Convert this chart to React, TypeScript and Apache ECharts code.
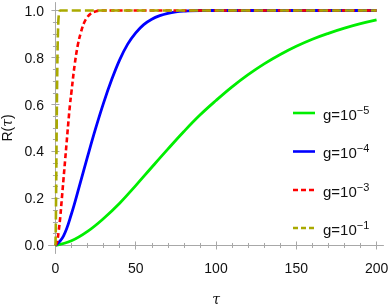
import React, { useEffect, useRef } from "react";
import * as echarts from "echarts";

const X_MAJOR = [0, 50, 100, 150, 200];
const X_MINOR = [10, 20, 30, 40, 60, 70, 80, 90, 110, 120, 130, 140, 160, 170, 180, 190];
const Y_MAJOR = [0, 0.2, 0.4, 0.6, 0.8, 1.0];
const Y_MINOR = [0.05, 0.1, 0.15, 0.25, 0.3, 0.35, 0.45, 0.5, 0.55, 0.65, 0.7, 0.75, 0.85, 0.9, 0.95];

const TAU_G5 = [0, 10, 20, 30, 40, 50, 60, 70, 80, 90, 100, 110, 120, 130, 140, 150, 160, 170, 180, 190, 200];
const R_G5 = [0, 0.02, 0.06, 0.115, 0.18, 0.255, 0.333, 0.41, 0.485, 0.555, 0.617, 0.675, 0.727, 0.773, 0.813, 0.848, 0.878, 0.903, 0.925, 0.944, 0.96];

const TAU_G4 = [0, 5, 10, 15, 20, 25, 30, 35, 40, 45, 50, 55, 60, 65, 70, 75, 80, 90, 200];
const R_G4 = [0, 0.04, 0.135, 0.255, 0.378, 0.497, 0.607, 0.705, 0.79, 0.857, 0.905, 0.94, 0.963, 0.978, 0.988, 0.994, 0.997, 1, 1];

const TAU_G3 = [0, 1, 2, 3, 4, 5, 6, 7, 8, 9, 10, 12, 14, 16, 18, 20, 22, 25, 28, 200];
const R_G3 = [0, 0.015, 0.06, 0.12, 0.2, 0.28, 0.36, 0.44, 0.52, 0.595, 0.655, 0.77, 0.855, 0.91, 0.95, 0.973, 0.987, 0.996, 1, 1];

const TAU_G1 = [0, 0.2, 0.4, 0.6, 0.8, 1, 1.2, 1.4, 1.6, 1.8, 2, 2.5, 3, 200];
const R_G1 = [0, 0.06, 0.2, 0.36, 0.52, 0.655, 0.77, 0.855, 0.91, 0.95, 0.973, 0.996, 1, 1];

const NAMES = ["g=10^-5", "g=10^-4", "g=10^-3", "g=10^-1"];
const LEGEND_BASE = "g=10";
const EXPS = ["−5", "−4", "−3", "−1"];

const zip = (a: number[], b: number[]) => a.map((v, i) => [v, b[i]]);

const FRAME = "#a8a8a8";
const FONT = "Liberation Sans";

export default function App() {
  const ref = useRef<HTMLDivElement>(null);
  useEffect(() => {
    const chart = echarts.init(ref.current!, null, { renderer: "svg" });
    const xa = (pos: string, vals: number[], len: number, label: boolean, extra: any = {}) => ({
      type: "value",
      position: pos,
      min: -4,
      max: 204,
      axisLine: { show: true, lineStyle: { color: FRAME, width: 1 } },
      axisTick: { show: true, inside: true, length: len, customValues: vals, lineStyle: { color: FRAME } },
      axisLabel: label
        ? { show: true, customValues: vals, color: "#111", fontSize: 14, fontFamily: FONT, margin: 8 }
        : { show: false },
      splitLine: { show: false },
      ...extra,
    });
    const ya = (pos: string, vals: number[], len: number, label: boolean, extra: any = {}) => ({
      type: "value",
      position: pos,
      min: -0.032,
      max: 1.032,
      axisLine: { show: true, lineStyle: { color: FRAME, width: 1 } },
      axisTick: { show: true, inside: true, length: len, customValues: vals, lineStyle: { color: FRAME } },
      axisLabel: label
        ? {
            show: true,
            customValues: vals,
            color: "#111",
            fontSize: 14,
            fontFamily: FONT,
            margin: 5,
            formatter: (v: number) => v.toFixed(1),
          }
        : { show: false },
      splitLine: { show: false },
      ...extra,
    });
    const colors = ["#00ee00", "#0000ff", "#ff0000", "#aaaa00"];
    const dashes: any[] = ["solid", "solid", [5, 3], [9, 4]];
    const legendDash: any[] = [null, null, [5, 3], [5, 3]];
    const datas = [zip(TAU_G5, R_G5), zip(TAU_G4, R_G4), zip(TAU_G3, R_G3), zip(TAU_G1, R_G1)];
    const legendY = [113, 151.5, 190, 228];
    const graphics: any[] = [];
    NAMES.forEach((n, i) => {
      graphics.push({
        type: "line",
        shape: { x1: 293, y1: legendY[i], x2: 315, y2: legendY[i] },
        style: { stroke: colors[i], lineWidth: 2.6, lineDash: legendDash[i] || undefined },
      });
      graphics.push({
        type: "text",
        x: 323,
        y: legendY[i] + 1,
        style: {
          text: `{a|${LEGEND_BASE}}{s|${EXPS[i]}}`,
          verticalAlign: "middle",
          rich: {
            a: { fontSize: 15, fontFamily: FONT, fill: "#111" },
            s: { fontSize: 11, fontFamily: FONT, fill: "#111", padding: [0, 0, 9, 0] },
          },
        },
      });
    });
    chart.setOption({
      animation: false,
      grid: { left: 49, right: 7, top: 3, bottom: 55, outerBoundsMode: "none", containLabel: false },
      xAxis: [
        xa("bottom", X_MAJOR, 4, true, {
          name: "τ",
          nameLocation: "middle",
          nameGap: 39,
          nameTextStyle: { fontSize: 14, fontStyle: "italic", fontFamily: "DejaVu Serif", color: "#111" },
        }),
        xa("bottom", X_MINOR, 2.5, false),
        xa("top", X_MAJOR, 4, false),
        xa("top", X_MINOR, 2.5, false),
      ],
      yAxis: [
        ya("left", Y_MAJOR, 4, true, {
          name: "{a|R(}{b|τ}{a|)}",
          nameLocation: "middle",
          nameGap: 30,
          nameRotate: 90,
          nameTextStyle: {
            rich: {
              a: { fontSize: 14, fontFamily: FONT, color: "#111" },
              b: { fontSize: 14, fontFamily: "DejaVu Serif", fontStyle: "italic", color: "#111" },
            },
          },
        }),
        ya("left", Y_MINOR, 2.5, false),
        ya("right", Y_MAJOR, 4, false),
        ya("right", Y_MINOR, 2.5, false),
      ],
      graphic: graphics,
      series: NAMES.map((n, i) => ({
        name: n,
        type: "line",
        data: datas[i],
        symbol: "none",
        smooth: 0.4,
        clip: true,
        lineStyle: { color: colors[i], width: i < 2 ? 2.8 : 2.6, type: dashes[i] },
        itemStyle: { color: colors[i] },
        z: 2 + i,
      })),
    });
    return () => chart.dispose();
  }, []);
  return <div ref={ref} style={{ position: "fixed", left: 0, top: 0, width: 390, height: 308 }} />;
}
